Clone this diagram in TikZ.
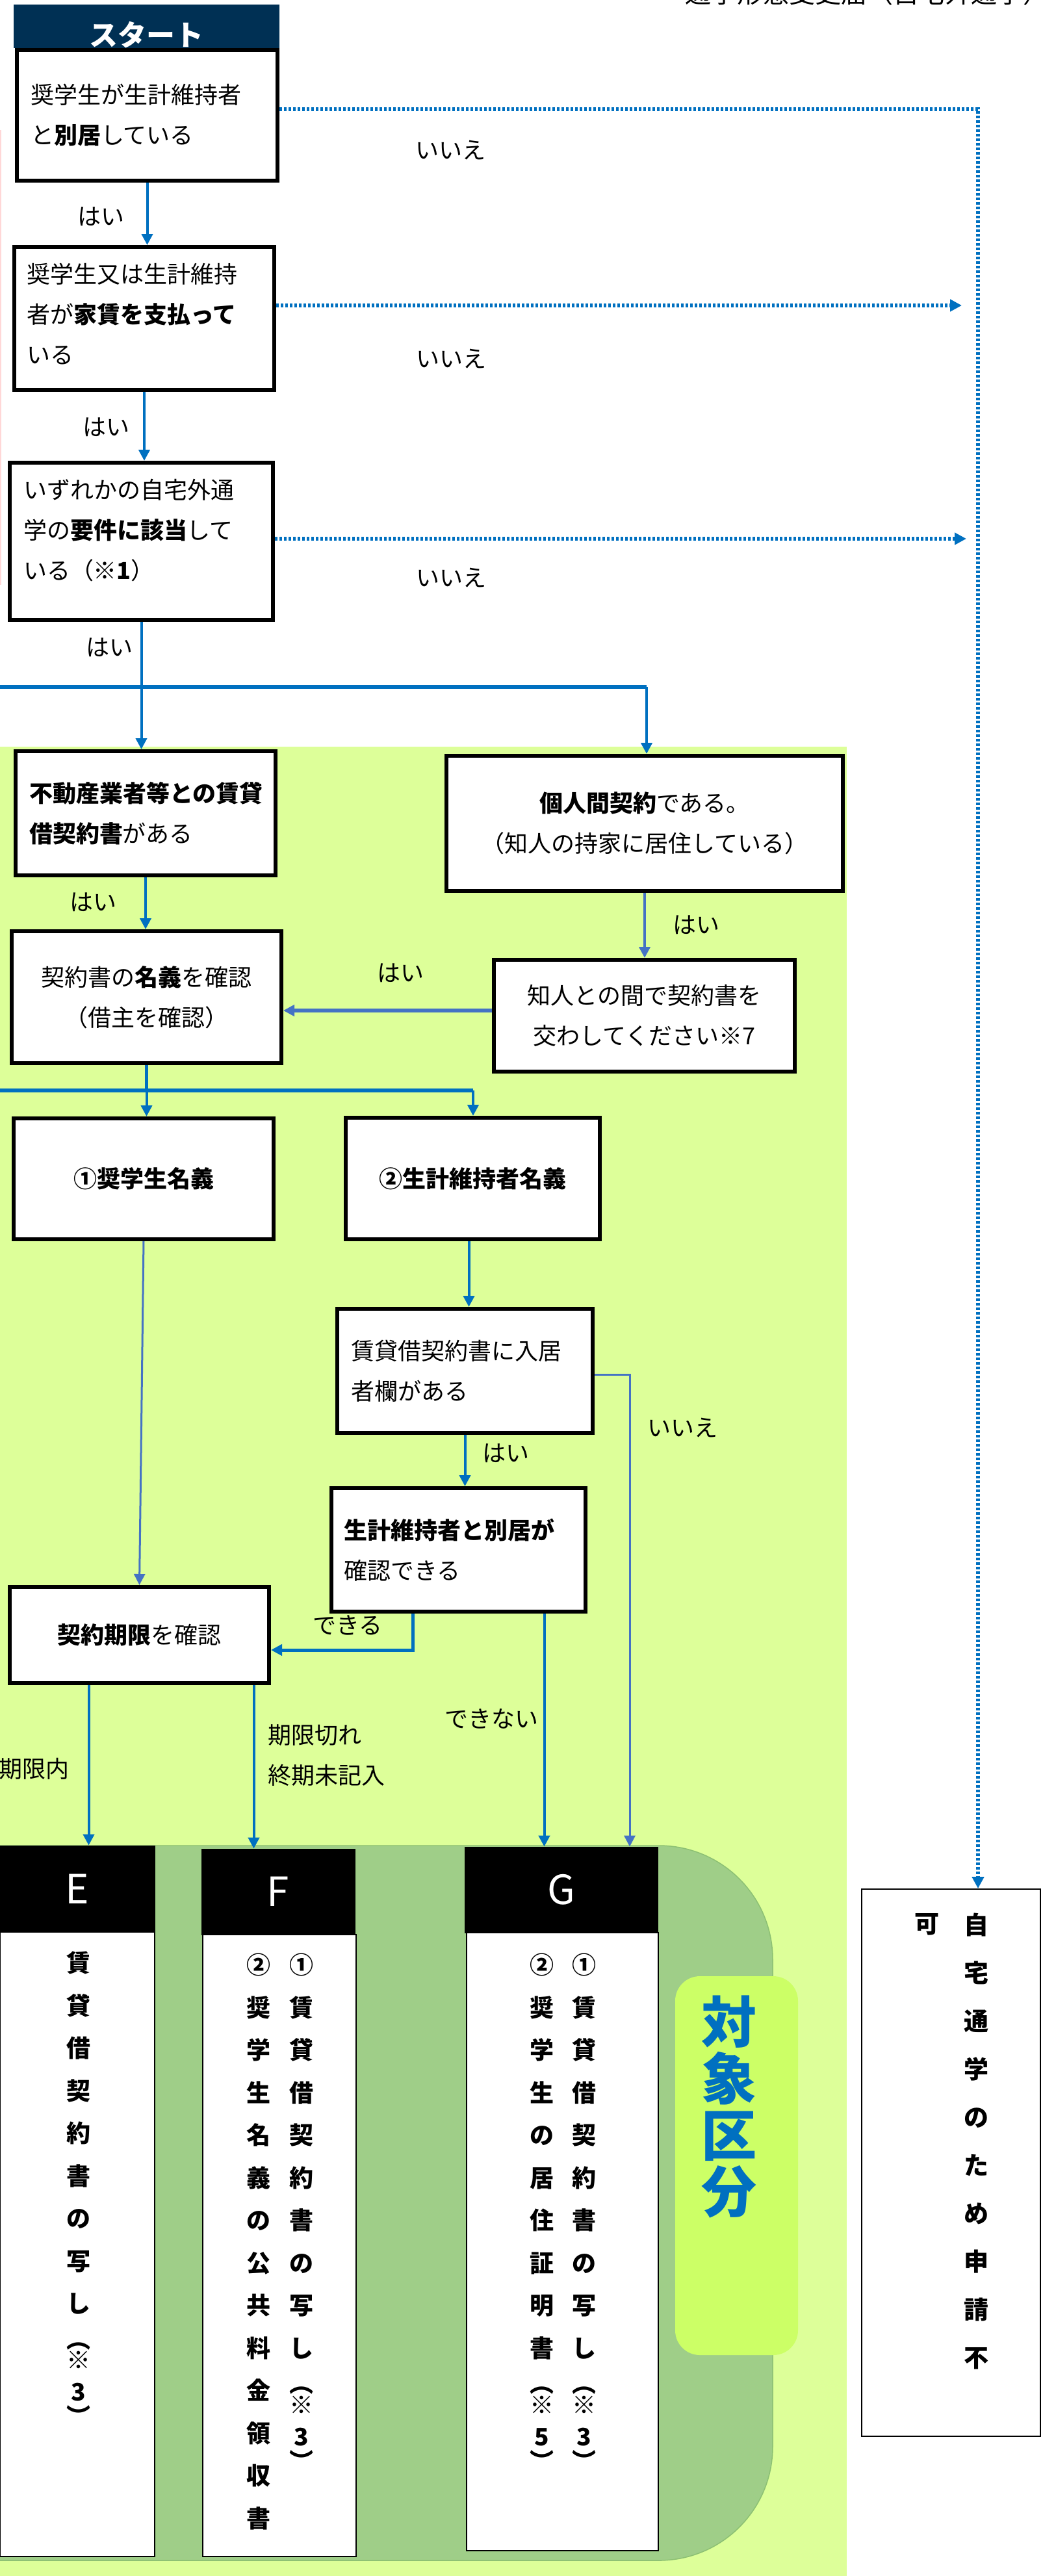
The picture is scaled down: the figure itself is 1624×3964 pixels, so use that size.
\documentclass[tikz,border=0pt]{standalone}
\usepackage{fontspec}
\setmainfont{Noto Sans CJK JP}
\usetikzlibrary{arrows.meta}
\definecolor{navy}{RGB}{0,48,84}
\definecolor{blueA}{RGB}{0,112,192}
\definecolor{blueB}{RGB}{68,114,196}
\definecolor{ltgreen}{RGB}{221,255,153}
\definecolor{dkgreen}{RGB}{159,206,136}
\definecolor{dkgreenline}{RGB}{140,192,115}
\definecolor{badgegreen}{RGB}{204,255,102}
\definecolor{pinkline}{RGB}{255,215,215}
\newcommand{\flowfont}{\fontsize{18}{31}\selectfont}
\newcommand{\colfont}{\bfseries\fontsize{18.5}{32.75}\selectfont}
\newcommand{\tailnote}[1]{\\[-5.5pt]︵\\[-16.4pt]※\\[-8.2pt]#1\\[-13.8pt]︶}
\tikzset{
  flowbox/.style={draw=black, line width=3pt, fill=white, inner sep=0pt, font=\flowfont},
  lbl/.style={inner sep=0pt, font=\flowfont},
  hdr/.style={draw=black, fill=black, inner sep=0pt, text=white, font=\fontsize{31}{31}\selectfont},
  docbody/.style={draw=black, line width=1pt, fill=white, inner sep=0pt},
  vcol/.style={anchor=north, align=center, inner sep=0pt, font=\colfont},
  conn/.style={draw=blueA, line width=2pt, -{Triangle[length=8.5pt,width=8.5pt]}},
  conn2/.style={draw=blueB, line width=1.5pt, -{Triangle[length=8.5pt,width=8.5pt]}},
  bus/.style={draw=blueA, line width=3pt},
  dotconn/.style={draw=blueA, line width=3pt, dash pattern=on 2pt off 1.5pt, -{Triangle[length=9pt,width=9pt]}}
}
\begin{document}
\begin{tikzpicture}[x=0.5pt, y=-0.5pt]
	\useasboundingbox (0,0) rectangle (1624,3964);
	\fill[white] (0,0) rectangle (1624,3964);

	%background
	\fill[ltgreen] (0,1149) rectangle (1303,3964);
	\filldraw[fill=dkgreen, draw=dkgreenline, line width=0.75pt, rounded corners=87.5pt] (-300,2840) rectangle (1189,3940);
	\draw[pinkline, line width=1pt] (1,200) -- (1,900);

	%title
	\node[anchor=base west, inner sep=0pt, font=\fontsize{20}{24}\selectfont] (title) at (1054,4) {通学形態変更届（自宅外通学）};

	%start
	\node[fill=navy, minimum width=204.5pt, minimum height=33.5pt, inner sep=0pt] (st) at (225.5,40.5) {};
	\node[text=white, inner sep=0pt, font=\bfseries\fontsize{22}{22}\selectfont] (stT) at (225,54) {スタート};

	%flow boxes
	\node[flowbox, minimum width=200.5pt, minimum height=100.5pt, text width=179.5pt, align=left] (b1) at (226.5,177.5) {奨学生が生計維持者\\と{\bfseries 別居}している};
	\node[flowbox, minimum width=200pt, minimum height=110pt, text width=181pt, align=left] (b2) at (222,490) {奨学生又は生計維持\\者が{\bfseries 家賃を支払って}\\いる\\[-23pt]\mbox{}};
	\node[flowbox, minimum width=202.5pt, minimum height=121pt, text width=181.5pt, align=left] (b3) at (217.5,833) {いずれかの自宅外通\\学の{\bfseries 要件に該当}して\\いる（{\bfseries ※1}）\\[-12pt]\mbox{}};
	\node[flowbox, minimum width=200pt, minimum height=95.5pt, text width=179pt, align=left] (b4) at (224,1251.5) {{\bfseries 不動産業者等との賃貸}\\{\bfseries 借契約書}がある};
	\node[flowbox, minimum width=305pt, minimum height=104pt, align=center] (b5) at (992,1267) {{\bfseries 個人間契約}である。\\（知人の持家に居住している）};
	\node[flowbox, minimum width=207.5pt, minimum height=101.5pt, align=center] (b6) at (225.5,1534.5) {契約書の{\bfseries 名義}を確認\\（借主を確認）};
	\node[flowbox, minimum width=231.5pt, minimum height=86pt, align=center] (b7) at (991.5,1563) {知人との間で契約書を\\交わしてください※7};
	\node[flowbox, minimum width=200pt, minimum height=93pt] (b8) at (221,1814) {\bfseries ①奨学生名義};
	\node[flowbox, minimum width=195.5pt, minimum height=93.5pt] (b9) at (727.5,1813.5) {\bfseries ②生計維持者名義};
	\node[flowbox, minimum width=196.5pt, minimum height=95.5pt, text width=175.5pt, align=left] (b10) at (715.5,2109.5) {賃貸借契約書に入居\\者欄がある};
	\node[flowbox, minimum width=195.5pt, minimum height=95pt, text width=176.5pt, align=left] (b11) at (705.5,2385) {{\bfseries 生計維持者と別居が}\\確認できる};
	\node[flowbox, minimum width=199.5pt, minimum height=74pt] (b12) at (214.5,2516) {{\bfseries 契約期限}を確認};

	%E F G
	\node[docbody, minimum width=119pt, minimum height=480.5pt] (eB) at (119,3453.5) {};
	\node[hdr, minimum width=119pt, minimum height=66.5pt] (eH) at (119,2906.5) {E};
	\node[docbody, minimum width=118pt, minimum height=478.5pt] (fB) at (430,3455.5) {};
	\node[hdr, minimum width=118pt, minimum height=66pt] (fH) at (428,2911) {F};
	\node[docbody, minimum width=147.5pt, minimum height=475.5pt] (gB) at (865.5,3449.5) {};
	\node[hdr, minimum width=148.5pt, minimum height=66pt] (gH) at (863.5,2908) {G};

	\node[vcol] (eT) at (121,3002.5) {賃\\貸\\借\\契\\約\\書\\の\\写\\し\tailnote{3}};
	\node[vcol] (fT1) at (464,3005.5) {①\\賃\\貸\\借\\契\\約\\書\\の\\写\\し\tailnote{3}};
	\node[vcol] (fT2) at (398,3005.5) {②\\奨\\学\\生\\名\\義\\の\\公\\共\\料\\金\\領\\収\\書};
	\node[vcol] (gT1) at (899,3005.5) {①\\賃\\貸\\借\\契\\約\\書\\の\\写\\し\tailnote{3}};
	\node[vcol] (gT2) at (834,3005.5) {②\\奨\\学\\生\\の\\居\\住\\証\\明\\書\tailnote{5}};

	%badge
	\node[fill=badgegreen, rounded corners=19pt, minimum width=94.5pt, minimum height=291.5pt, inner sep=0pt] (tg) at (1133.5,3332.5) {};
	\node[anchor=north, align=center, inner sep=0pt, text=blueA, font=\bfseries\fontsize{42.5}{43.5}\selectfont] (tgT) at (1122,3070.5) {対\\象\\区\\分};

	%not applicable
	\node[docbody, minimum width=137.5pt, minimum height=421pt] (nf) at (1463.5,3328) {};
	\node[vcol, font=\bfseries\fontsize{19}{37}\selectfont] (nfT1) at (1502,2944) {自\\宅\\通\\学\\の\\た\\め\\申\\請\\不};
	\node[vcol, font=\bfseries\fontsize{19}{37}\selectfont] (nfT2) at (1426,2944) {可};

	%labels
	\node[lbl] (y1) at (155,333) {はい};
	\node[lbl] (y2) at (163,657) {はい};
	\node[lbl] (y3) at (168,996) {はい};
	\node[lbl] (y4) at (143,1388) {はい};
	\node[lbl] (y5) at (1071,1423) {はい};
	\node[lbl] (y6) at (616,1497) {はい};
	\node[lbl] (y7) at (778,2236) {はい};
	\node[lbl] (n1) at (693,231) {いいえ};
	\node[lbl] (n2) at (694,552) {いいえ};
	\node[lbl] (n3) at (694,889) {いいえ};
	\node[lbl] (n4) at (1050,2197) {いいえ};
	\node[lbl] (ok) at (535,2501) {できる};
	\node[lbl] (ng) at (756,2645) {できない};
	\node[lbl] (in) at (52,2722) {期限内};
	\node[lbl, anchor=west, align=left] (out) at (412,2701) {期限切れ\\終期未記入};

	%junctions
	\coordinate (j1) at (217.5,1057);
	\coordinate (j1w) at (0,1057);
	\coordinate (j1e) at (995,1057);
	\coordinate (j2) at (225.5,1678);
	\coordinate (j2w) at (0,1678);
	\coordinate (j2e) at (728,1678);
	\coordinate (dv) at (1505,167.5);
	\coordinate (d2) at (1480,470);
	\coordinate (d3) at (1487,829);
	\coordinate (nb) at (969,2115.5);

	%no
	\draw[dotconn] ([yshift=5pt]b1.east) -- (dv) -- (dv |- nf.north);
	\draw[dotconn] ([yshift=10pt]b2.east) -- (d2);
	\draw[dotconn] ([yshift=2pt]b3.east) -- (d3);

	%yes
	\draw[conn] (b1.south) -- (b1.south |- b2.north);
	\draw[conn] (b2.south) -- (b2.south |- b3.north);
	\draw[conn] (b3.south) -- (b3.south |- b4.north);
	\draw[bus] (j1w) -- (j1e);
	\draw[conn] (j1e) -- (j1e |- b5.north);
	\draw[conn] (b4.south) -- (b4.south |- b6.north);
	\draw[conn2, line width=2pt] (b5.south) -- (b5.south |- b7.north);
	\draw[conn2, line width=3pt] ([yshift=4pt]b7.west) -- ([yshift=4pt]b7.west -| b6.east);
	\draw[blueA, line width=2.5pt] (b6.south) -- (j2);
	\draw[bus] (j2w) -- (j2e);
	\draw[conn] (j2) -- (j2 |- b8.north);
	\draw[conn] (j2e) -- (j2e |- b9.north);
	\draw[conn] ([xshift=-3pt]b9.south) -- ([xshift=-3pt]b9.south |- b10.north);
	\draw[conn] (b10.south) -- (b10.south |- b11.north);
	\draw[conn2] ([yshift=-3pt]b10.east) -- (nb) -- (nb |- gH.north);
	\draw[conn2] (b8.south) -- (b12.north);
	\draw[conn, line width=2.5pt] ([xshift=-35pt]b11.south) |- ([yshift=-11.5pt]b12.east);
	\draw[conn] ([xshift=66pt]b11.south) -- ([xshift=66pt]b11.south |- gH.north);
	\draw[conn] ([xshift=-39pt]b12.south) -- ([xshift=-39pt]b12.south |- eH.north);
	\draw[conn] ([xshift=88pt]b12.south) -- ([xshift=88pt]b12.south |- fH.north);
\end{tikzpicture}
\end{document}
